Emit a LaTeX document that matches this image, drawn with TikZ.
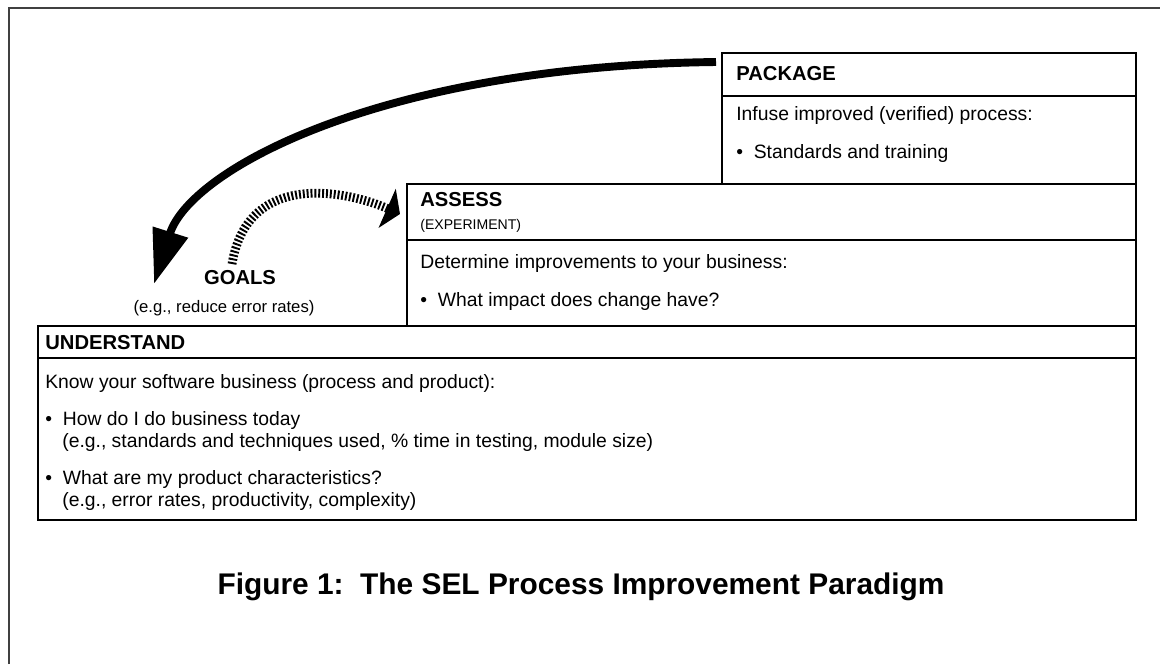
\documentclass[tikz,border=0pt]{standalone}
\usepackage{fontspec}
\setmainfont{Liberation Sans}
\usetikzlibrary{arrows.meta}

\begin{document}
\begin{tikzpicture}[x=0.02cm, y=-0.02cm,
        txt/.style={anchor=base west, inner sep=0pt, font=\fontsize{11}{13}\selectfont},
        hd/.style={anchor=base west, inner sep=0pt, font=\fontsize{11.5}{13}\selectfont\bfseries},
        boxline/.style={line width=0.8pt}]
    \useasboundingbox (0,0) rectangle (1160,664);
    % frame
    \draw[line width=0.6pt, black!75] (9,664) -- (9,8) -- (1160,8);
    % boxes
    \draw[boxline] (722,53) rectangle (1136,184);
    \draw[boxline] (722,96) -- (1136,96);
    \draw[boxline] (407,184) rectangle (1136,326);
    \draw[boxline] (407,240) -- (1136,240);
    \draw[boxline] (38,326) rectangle (1136,520);
    \draw[boxline] (38,358) -- (1136,358);
    % package
    \node[hd] (package) at (736,80) {PACKAGE};
    \node[txt] (infuse) at (736,120) {Infuse improved (verified) process:};
    \node[txt] (training) at (736,158) {•\ \ Standards and training};
    % assess
    \node[hd] (assess) at (420,206) {ASSESS};
    \node[txt, font=\fontsize{8}{10}\selectfont] (experiment) at (420,229) {(EXPERIMENT)};
    \node[txt] (determine) at (420,268) {Determine improvements to your business:};
    \node[txt] (impact) at (420,306) {•\ \ What impact does change have?};
    % goals
    \node[hd, anchor=base] (goals) at (240,284) {GOALS};
    \node[txt, anchor=base, font=\fontsize{9.5}{11}\selectfont] (goalsnote) at (224,312) {(e.g., reduce error rates)};
    % understand
    \node[hd] (understand) at (45,349) {UNDERSTAND};
    \node[txt] (know) at (45,388) {Know your software business (process and product):};
    \node[txt] (today) at (45,425) {•\ \ How do I do business today};
    \node[txt] (todaynote) at (62,447) {(e.g., standards and techniques used, \% time in testing, module size)};
    \node[txt] (product) at (45,484) {•\ \ What are my product characteristics?};
    \node[txt] (productnote) at (62,506) {(e.g., error rates, productivity, complexity)};
    % caption
    \node[anchor=base, inner sep=0pt, font=\fontsize{17}{20}\selectfont\bfseries] (caption) at (581,594)
        {Figure 1:\ \ The SEL Process Improvement Paradigm};
    % arrows
    \coordinate (pkgout) at (716,62);
    \coordinate (goalsin) at (154,284);
    \coordinate (goalsout) at (232,264);
    \coordinate (assessin) at (400,214);
    \draw[line width=4.5pt, -{Triangle[length=31pt, width=20pt]}]
        (pkgout) .. controls (380,66) and (190,170) .. (goalsin);
    \draw[line width=5pt, dash pattern=on 1.1pt off 1.1pt, -{Triangle[length=8pt, width=24pt]}]
        (goalsout) .. controls (248,168) and (350,192) .. (assessin);
\end{tikzpicture}
\end{document}
